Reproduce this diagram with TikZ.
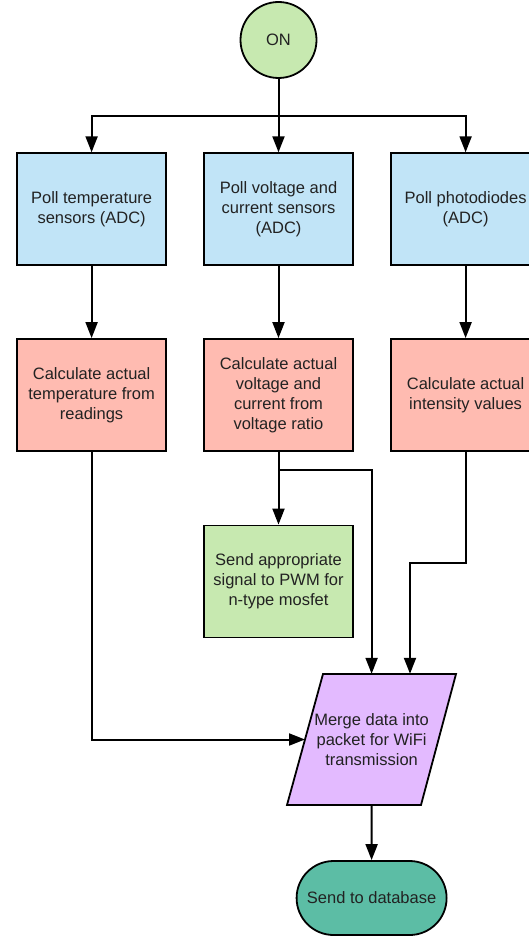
\documentclass[tikz,border=0pt]{standalone}
\usepackage{fontspec}
\setmainfont{Liberation Sans}
\usetikzlibrary{shapes.geometric,shapes.misc,arrows.meta}
\definecolor{cblue}{HTML}{C1E4F7}
\definecolor{cpink}{HTML}{FFBBB1}
\definecolor{cgreen}{HTML}{C7E9B0}
\definecolor{cpurple}{HTML}{E3BAFF}
\definecolor{cteal}{HTML}{5CBDA5}
\definecolor{ctext}{HTML}{222222}
\begin{document}
\begin{tikzpicture}[x=1pt,y=-1pt,
  font=\fontsize{16.5}{20}\selectfont,
  shp/.style={draw=black, line width=1.8pt, inner sep=0pt, align=center, text=ctext},
  box/.style={shp, minimum width=149pt, minimum height=112pt},
  arr/.style={line width=2pt, -{Triangle[length=16pt,width=12pt]}},
  ln/.style={line width=2pt}]
\useasboundingbox (0,0) rectangle (529,936);
\clip (0,0) rectangle (529,936);
% nodes
\node[shp, circle, fill=cgreen, minimum size=76pt] (on) at (278.5,40) {ON};
\node[box, fill=cblue] (b1) at (91.6,209.2) {Poll temperature\\sensors (ADC)};
\node[box, fill=cblue] (b2) at (278.5,209.2) {Poll voltage and\\current sensors\\(ADC)};
\node[box, fill=cblue] (b3) at (465.6,209.2) {Poll photodiodes\\(ADC)};
\node[box, fill=cpink] (p1) at (91.6,395) {Calculate actual\\temperature from\\readings};
\node[box, fill=cpink] (p2) at (278.5,395) {Calculate actual\\voltage and\\current from\\voltage ratio};
\node[box, fill=cpink] (p3) at (465.6,395) {Calculate actual\\intensity values};
\node[box, fill=cgreen] (g) at (278.5,581.5) {Send appropriate\\signal to PWM for\\n-type mosfet};
% parallelogram (drawn as path) with its text node
\coordinate (mTL) at (323,674);
\coordinate (mTR) at (456,674);
\coordinate (mBR) at (421,805);
\coordinate (mBL) at (287,805);
\coordinate (mW) at (305,739.5);
\filldraw[fill=cpurple, draw=black, line width=1.8pt, line join=miter] (mTL) -- (mTR) -- (mBR) -- (mBL) -- cycle;
\node[align=center, text=ctext, inner sep=0pt, minimum width=133pt, minimum height=131pt] (merge) at (371.6,739.5) {Merge data into\\packet for WiFi\\transmission};
\node[shp, rounded rectangle, fill=cteal, minimum width=150pt, minimum height=74pt] (db) at (371.6,898) {Send to database};
% connectors
\coordinate (sp) at (278.5,116);
\draw[ln] (on) -- (sp);
\draw[arr] (sp) -- (b2);
\draw[arr] (sp) -| (b1);
\draw[arr] (sp) -| (b3);
\draw[arr] (b1) -- (p1);
\draw[arr] (b2) -- (p2);
\draw[arr] (b3) -- (p3);
\draw[arr] (p2) -- (g);
\coordinate (s2) at (278.5,470);
\draw[arr] (s2) -| (merge.north);
\coordinate (s3) at (410,563);
\draw[arr] (p3.south) |- (s3) -- (s3 |- merge.north);
\draw[arr] (p1.south) |- (mW);
\draw[arr] (merge.south) -- (db);
\end{tikzpicture}
\end{document}
